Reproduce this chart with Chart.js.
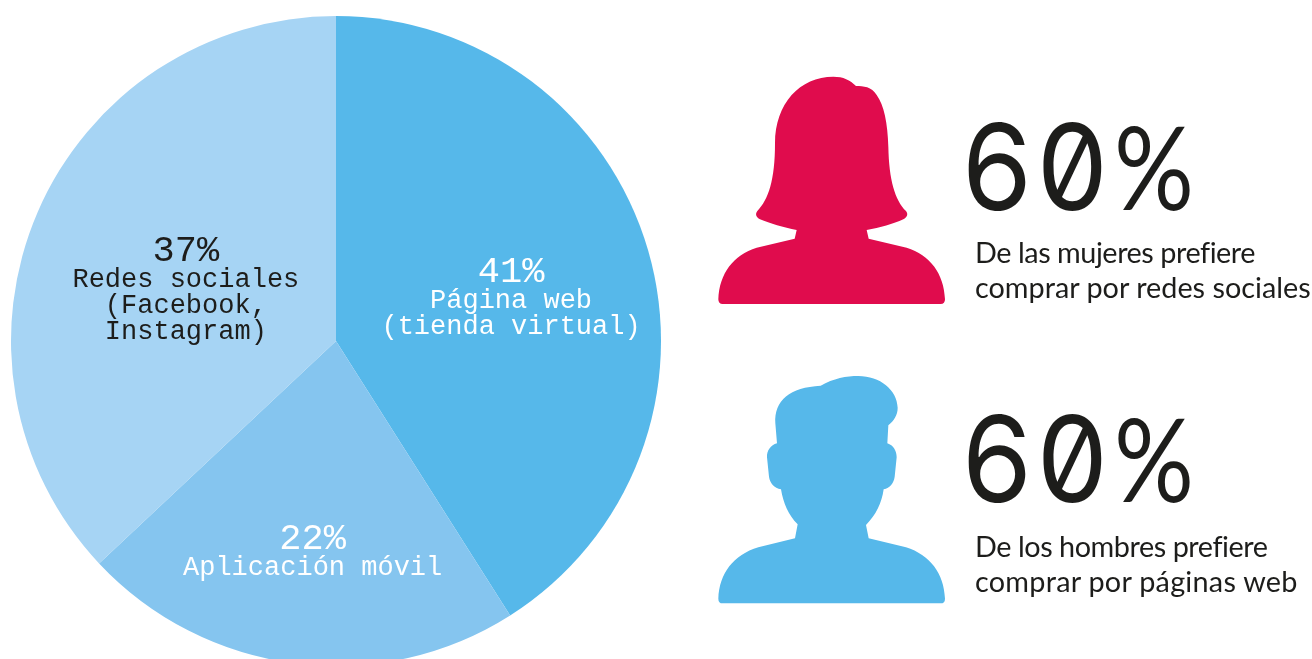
<!DOCTYPE html>
<html lang="es">
<head>
<meta charset="utf-8">
<title>Preferencias de compra</title>
<script src="https://cdn.jsdelivr.net/npm/chart.js@4/dist/chart.umd.min.js"></script>
<style>
	html, body { margin: 0; width: 1312px; height: 659px; overflow: hidden; background: #fff; }
	#pie { position: absolute; left: 0; top: 0; }
	.icon { position: absolute; left: 700px; width: 270px; height: 260px; }
	.big {
		position: absolute; left: 962px; color: #1d1d1b;
		font: 400 120px/130px Inter, sans-serif;
		font-feature-settings: "zero" 1;
		white-space: nowrap;
	}
	.big b { display: inline-block; font-weight: 400; letter-spacing: 5px; transform-origin: left top; transform: scaleX(0.94); width: 152px; }
	.big i { display: inline-block; font: 400 116px/130px Lato, sans-serif; transform-origin: left top; transform: scaleX(0.86); }
	.note {
		position: absolute; left: 975px; color: #1d1d1b;
		font: 400 28.8px/35px Lato, sans-serif;
		white-space: nowrap;
	}
	.note .tight { letter-spacing: -0.45px; }
	.note .loose { letter-spacing: 0.25px; }
</style>
</head>
<body>
<canvas id="pie" width="1312" height="666"></canvas>

<svg class="icon" style="top:60px" viewBox="0 0 810 780">
	<path fill="#e00c4d" d="M55 718C58 640 100 585 170 563L284 536L290 510C250 503 210 490 180 478C168 472 165 462 172 453C205 420 225 360 225 250C225 130 300 50 400 50C430 50 450 60 468 78C490 78 515 80 530 105C552 135 563 190 565 260C567 360 585 420 618 453C625 462 622 472 610 478C580 492 540 503 500 510L506 536L620 563C690 585 732 640 735 718Q735 732 722 732L68 732Q55 732 55 718Z"/>
</svg>
<svg class="icon" style="top:360px" viewBox="0 0 810 780">
	<path fill="#56b8ea" d="M55 716C58 640 100 585 175 562L285 535L293 493C265 465 250 430 243 388C222 384 210 370 207 350L201 292C200 272 212 255 231 250L226 190C222 120 270 82 362 77C400 55 440 48 475 48C540 48 592 90 593 143C593 165 582 182 565 196L562 250C580 256 590 272 590 292L584 350C581 370 570 384 551 388C545 430 528 465 498 495L506 535L618 562C690 585 732 640 735 716Q735 730 722 730L68 730Q55 730 55 716Z"/>
</svg>

<div class="big" style="top:101px"><b>60</b><i>%</i></div>
<div class="note" style="top:235px"><span class="tight">De las mujeres prefiere</span><br>comprar por redes sociales</div>
<div class="big" style="top:393px"><b>60</b><i>%</i></div>
<div class="note" style="top:529px"><span class="tight">De los hombres prefiere</span><br><span class="loose">comprar por páginas web</span></div>

<script>
const categories = ['Página web', 'Aplicación móvil', 'Redes sociales'];
const shares = [41, 22, 37];
const sliceColors = ['#56b8ea', '#85c5ef', '#a6d4f4'];
const labelLines = [
	['Página web', '(tienda virtual)'],
	['Aplicación móvil'],
	['Redes sociales', '(Facebook,', 'Instagram)'],
];
const labelColors = ['#ffffff', '#ffffff', '#1d1d1b'];
// nudges from each arc's centre point to its text block
const labelNudges = [[19, -14], [-3, 47], [-1, -15]];

// percent and description written inside each slice
const sliceLabels = {
	id: 'sliceLabels',
	afterDatasetsDraw(chart) {
		const { ctx } = chart;
		ctx.save();
		ctx.textAlign = 'center';
		ctx.textBaseline = 'alphabetic';
		chart.getDatasetMeta(0).data.forEach((arc, i) => {
			const c = arc.getCenterPoint();
			const x = c.x + labelNudges[i][0];
			const y = c.y + labelNudges[i][1];
			ctx.fillStyle = labelColors[i];
			ctx.font = '37px "Liberation Mono"';
			ctx.fillText(shares[i] + '%', x, y);
			ctx.font = '27px "Liberation Mono"';
			labelLines[i].forEach((line, n) => {
				ctx.fillText(line, x, y + 26 + n * 26);
			});
		});
		ctx.restore();
	},
};

new Chart(document.getElementById('pie'), {
	type: 'pie',
	data: {
		labels: categories,
		datasets: [{
			data: shares,
			backgroundColor: sliceColors,
			borderWidth: 0,
		}],
	},
	options: {
		responsive: false,
		animation: false,
		radius: 325,
		// the canvas runs past the window so the pie's bottom edge gets cut off
		layout: { padding: { left: 11, top: 16, right: 651, bottom: 0 } },
		plugins: { legend: { display: false }, tooltip: { enabled: false } },
	},
	plugins: [sliceLabels],
});
</script>
</body>
</html>
